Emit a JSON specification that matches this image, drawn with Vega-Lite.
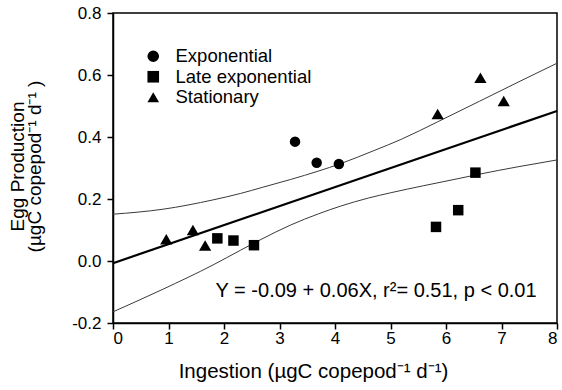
{
  "$schema": "https://vega.github.io/schema/vega-lite/v6.json",
  "width": 444,
  "height": 310,
  "autosize": {"type": "none"},
  "padding": {"left": 113, "top": 13, "right": 5, "bottom": 67},
  "background": "white",
  "config": {
    "font": "Liberation Sans",
    "view": {"stroke": "black", "strokeWidth": 1.5},
    "axis": {
      "grid": false,
      "domainColor": "black",
      "domainWidth": 1.5,
      "tickColor": "black",
      "tickWidth": 1.5,
      "tickSize": 6,
      "labelFont": "Liberation Sans",
      "labelFontSize": 17,
      "labelColor": "black",
      "titleFont": "Liberation Sans",
      "titleFontSize": 20.5,
      "titleFontWeight": "normal",
      "titleColor": "black"
    }
  },
  "datasets": {
    "obs": [
      {"ingestion": 3.28, "egg": 0.385, "phase": "Exponential"},
      {"ingestion": 3.67, "egg": 0.317, "phase": "Exponential"},
      {"ingestion": 4.07, "egg": 0.313, "phase": "Exponential"},
      {"ingestion": 1.88, "egg": 0.073, "phase": "Late exponential"},
      {"ingestion": 2.17, "egg": 0.066, "phase": "Late exponential"},
      {"ingestion": 2.54, "egg": 0.051, "phase": "Late exponential"},
      {"ingestion": 5.82, "egg": 0.110, "phase": "Late exponential"},
      {"ingestion": 6.22, "egg": 0.164, "phase": "Late exponential"},
      {"ingestion": 6.53, "egg": 0.285, "phase": "Late exponential"},
      {"ingestion": 0.96, "egg": 0.070, "phase": "Stationary"},
      {"ingestion": 1.44, "egg": 0.100, "phase": "Stationary"},
      {"ingestion": 1.66, "egg": 0.050, "phase": "Stationary"},
      {"ingestion": 5.85, "egg": 0.474, "phase": "Stationary"},
      {"ingestion": 6.62, "egg": 0.591, "phase": "Stationary"},
      {"ingestion": 7.04, "egg": 0.516, "phase": "Stationary"}
    ],
    "fit": [
      {"ingestion": 0, "egg": -0.007},
      {"ingestion": 8, "egg": 0.484}
    ],
    "ci": [
      {"ingestion": 0, "egg": 0.151, "bound": "upper"},
      {"ingestion": 0.9, "egg": 0.167, "bound": "upper"},
      {"ingestion": 1.8, "egg": 0.197, "bound": "upper"},
      {"ingestion": 2.3, "egg": 0.218, "bound": "upper"},
      {"ingestion": 2.7, "egg": 0.238, "bound": "upper"},
      {"ingestion": 3.2, "egg": 0.263, "bound": "upper"},
      {"ingestion": 3.7, "egg": 0.290, "bound": "upper"},
      {"ingestion": 4.1, "egg": 0.314, "bound": "upper"},
      {"ingestion": 4.7, "egg": 0.356, "bound": "upper"},
      {"ingestion": 5.2, "egg": 0.393, "bound": "upper"},
      {"ingestion": 5.85, "egg": 0.449, "bound": "upper"},
      {"ingestion": 6.6, "egg": 0.515, "bound": "upper"},
      {"ingestion": 7.3, "egg": 0.577, "bound": "upper"},
      {"ingestion": 8, "egg": 0.638, "bound": "upper"},
      {"ingestion": 0, "egg": -0.164, "bound": "lower"},
      {"ingestion": 0.9, "egg": -0.091, "bound": "lower"},
      {"ingestion": 1.8, "egg": -0.013, "bound": "lower"},
      {"ingestion": 2.3, "egg": 0.035, "bound": "lower"},
      {"ingestion": 2.65, "egg": 0.068, "bound": "lower"},
      {"ingestion": 3.2, "egg": 0.116, "bound": "lower"},
      {"ingestion": 3.7, "egg": 0.152, "bound": "lower"},
      {"ingestion": 4.1, "egg": 0.177, "bound": "lower"},
      {"ingestion": 4.6, "egg": 0.203, "bound": "lower"},
      {"ingestion": 5.0, "egg": 0.220, "bound": "lower"},
      {"ingestion": 5.6, "egg": 0.243, "bound": "lower"},
      {"ingestion": 6.2, "egg": 0.265, "bound": "lower"},
      {"ingestion": 6.6, "egg": 0.280, "bound": "lower"},
      {"ingestion": 7.3, "egg": 0.304, "bound": "lower"},
      {"ingestion": 8, "egg": 0.326, "bound": "lower"}
    ],
    "note": [
      {"ingestion": 4.74, "egg": -0.115, "label": "Y = -0.09 + 0.06X, r²= 0.51, p < 0.01"}
    ]
  },
  "encoding": {
    "x": {
      "field": "ingestion",
      "type": "quantitative",
      "scale": {"domain": [0, 8], "nice": false},
      "axis": {
        "values": [0, 1, 2, 3, 4, 5, 6, 7, 8],
        "format": "d",
        "labelPadding": 1,
        "title": "Ingestion (µgC copepod⁻¹ d⁻¹)",
        "titleAnchor": "start",
        "titleAlign": "center",
        "titleX": 200,
        "titleY": 54,
        "titleBaseline": "alphabetic"
      }
    },
    "y": {
      "field": "egg",
      "type": "quantitative",
      "scale": {"domain": [-0.2, 0.8], "nice": false, "zero": false},
      "axis": {
        "values": [-0.2, 0, 0.2, 0.4, 0.6, 0.8],
        "labelExpr": "replace(format(datum.value, '.1f'), '\u2212', '-')",
        "labelPadding": 6,
        "title": ["Egg Production", "(µgC copepod⁻¹ d⁻¹ )"],
        "titleFontSize": 19,
        "titleAngle": -90,
        "titleAlign": "center",
        "titleBaseline": "top",
        "titleLineHeight": 17.5,
        "titleX": -105,
        "titleY": 153
      }
    }
  },
  "layer": [
    {
      "data": {"name": "ci"},
      "mark": {"type": "line", "color": "#3a3a3a", "strokeWidth": 1, "interpolate": "monotone"},
      "encoding": {"detail": {"field": "bound", "type": "nominal"}}
    },
    {
      "data": {"name": "fit"},
      "mark": {"type": "line", "color": "black", "strokeWidth": 2.2},
      "encoding": {}
    },
    {
      "data": {"name": "obs"},
      "transform": [{"filter": "datum.phase !== 'Stationary'"}],
      "mark": {"type": "point", "filled": true, "color": "black", "opacity": 1, "size": 110},
      "encoding": {
        "shape": {
          "field": "phase",
          "type": "nominal",
          "scale": {
            "domain": ["Exponential", "Late exponential", "Stationary"],
            "range": ["circle", "square", "triangle-up"]
          },
          "legend": {
            "title": null,
            "orient": "none",
            "legendX": 31,
            "legendY": 34,
            "padding": 0,
            "labelFont": "Liberation Sans",
            "labelFontSize": 18.5,
            "labelColor": "black",
            "labelOffset": 13,
            "rowPadding": 1.5,
            "symbolSize": 135,
            "symbolStrokeWidth": 0,
            "encode": {
              "symbols": {
                "update": {
                  "fill": {"value": "#333300"},
                  "stroke": {"value": "#333300"}
                }
              }
            }
          }
        }
      }
    },
    {
      "data": {"name": "obs"},
      "transform": [{"filter": "datum.phase === 'Stationary'"}],
      "mark": {"type": "point", "filled": true, "color": "black", "opacity": 1, "size": 150},
      "encoding": {
        "shape": {"field": "phase", "type": "nominal"}
      }
    },
    {
      "data": {"name": "note"},
      "mark": {"type": "text", "fontSize": 20, "font": "Liberation Sans", "color": "black", "align": "center", "baseline": "alphabetic"},
      "encoding": {"text": {"field": "label"}}
    }
  ]
}
